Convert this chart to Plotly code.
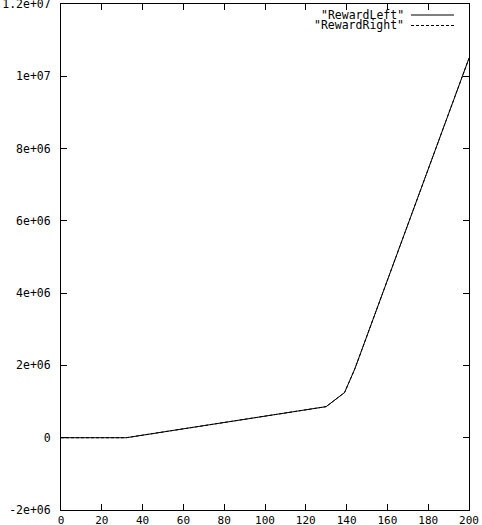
import plotly.graph_objects as go

# episode number vs accumulated reward
episode = [0, 32, 130, 139, 144, 200]
reward_left = [0, 0, 0.86e6, 1.25e6, 1.9e6, 10.5e6]
reward_right = [0, 0, 0.86e6, 1.25e6, 1.9e6, 10.5e6]

x_ticks = [0, 20, 40, 60, 80, 100, 120, 140, 160, 180, 200]
y_ticks = [-2e6, 0, 2e6, 4e6, 6e6, 8e6, 1e7, 1.2e7]
y_labels = ["-2e+06", "0", "2e+06", "4e+06", "6e+06", "8e+06", "1e+07", "1.2e+07"]

fig = go.Figure()
fig.add_trace(go.Scatter(x=episode, y=reward_left, mode="lines",
    name='"RewardLeft"', line=dict(color="black", width=1)))
fig.add_trace(go.Scatter(x=episode, y=reward_right, mode="lines",
    name='"RewardRight"', line=dict(color="black", width=1, dash="3px,2px")))

fig.update_xaxes(range=[0, 200], tickvals=x_ticks,
    showline=True, linecolor="black", linewidth=1, mirror="allticks",
    ticks="inside", ticklen=6, tickcolor="black", showgrid=False, zeroline=False,
    ticklabelstandoff=0, ticklabeloverflow="allow", automargin=False,
    tickfont=dict(size=11))
fig.update_yaxes(range=[-2e6, 1.2e7], tickvals=y_ticks, ticktext=y_labels,
    showline=True, linecolor="black", linewidth=1, mirror="allticks",
    ticks="inside", ticklen=6, tickcolor="black", showgrid=False, zeroline=False,
    ticklabelstandoff=7, ticklabeloverflow="allow", automargin=False)

# gnuplot style key: text right aligned, line sample to the right
w, h = 408, 506
def px(x): return (x - 61) / w
def py(y): return (510 - y) / h

for i, (label, dash) in enumerate([('"RewardLeft"', "solid"), ('"RewardRight"', "3px,2px")]):
    yy = 15 + i * 10.5
    fig.add_annotation(x=px(405), y=py(yy), xref="paper", yref="paper",
        text=label, showarrow=False, xanchor="right", yanchor="middle",
        borderpad=0, font=dict(size=11.5, color="black"))
    fig.add_shape(type="line", xref="paper", yref="paper",
        x0=px(411), x1=px(454), y0=py(yy), y1=py(yy),
        line=dict(color="black", width=1, dash=dash))

fig.update_layout(
    width=482, height=525,
    margin=dict(l=61, r=13, t=4, b=15),
    plot_bgcolor="white", paper_bgcolor="white",
    showlegend=False,
    font=dict(family="DejaVu Sans Mono", size=11.5, color="black"),
)

fig.write_html("out.html", config={"displayModeBar": False},
    post_script="document.body.style.margin='0';")
